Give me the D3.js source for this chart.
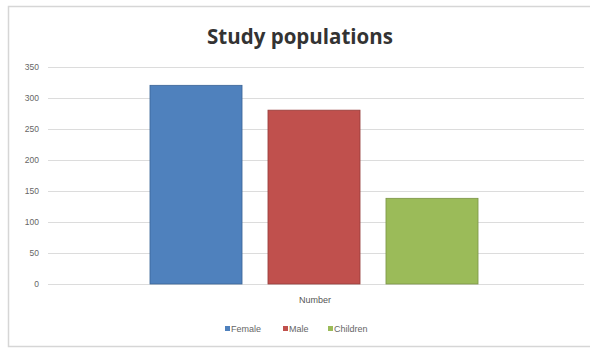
<!DOCTYPE html>
<html><head><meta charset="utf-8">
<script src="https://cdn.jsdelivr.net/npm/d3@7"></script>
<style>body{margin:0;background:#fff}svg{display:block}</style>
</head><body>
<svg id="c" width="590" height="348"></svg>
<script>
const categories = ["Number"];
const seriesNames = ["Female", "Male", "Children"];
const seriesValues = [320, 280, 138];
const seriesColors = ["#4f81bd", "#c0504d", "#9bbb59"];
const strokeColors = ["#3a6496", "#943c3a", "#7a9446"];
const yTicks = [0, 50, 100, 150, 200, 250, 300, 350];

const svg = d3.select("#c");
const font = "'Liberation Sans', Arial, sans-serif";

// outer border
svg.append("rect").attr("x", 8.5).attr("y", 6.5).attr("width", 590).attr("height", 340)
  .attr("fill", "#fff").attr("stroke", "#d6d6d6").attr("stroke-width", 1.5);

const m = {left: 48, right: 584, top: 66.7, bottom: 284};
const y = d3.scaleLinear().domain([0, 350]).range([m.bottom, m.top]);
const xCat = d3.scaleBand().domain(categories).range([m.left, m.right]);
// series group occupies the middle ~61% of the category band
const groupW = xCat.bandwidth() * 0.612;
const xSer = d3.scaleBand().domain(seriesNames)
  .range([0, groupW]).paddingInner(0.22).paddingOuter(0);

// gridlines
svg.append("g").selectAll("line").data(yTicks).join("line")
  .attr("x1", m.left).attr("x2", m.right)
  .attr("y1", d => Math.round(y(d)) + 0.5).attr("y2", d => Math.round(y(d)) + 0.5)
  .attr("stroke", "#dcdcdc").attr("stroke-width", 1.2);

// y axis labels
const yAxis = d3.axisLeft(y).tickValues(yTicks).tickSize(0).tickPadding(0);
const ga = svg.append("g").attr("transform", `translate(39,0)`).call(yAxis);
ga.select(".domain").remove();
ga.selectAll("text").attr("font-family", font).attr("font-size", 8.5).attr("fill", "#666");

// bars
const cat = categories[0];
const gx = xCat(cat) + (xCat.bandwidth() - groupW) / 2 - 2;
svg.append("g").attr("transform", `translate(${gx},0)`)
  .selectAll("rect").data(seriesNames).join("rect")
  .attr("x", d => xSer(d))
  .attr("width", xSer.bandwidth())
  .attr("y", (d, i) => y(seriesValues[i]))
  .attr("height", (d, i) => y(0) - y(seriesValues[i]))
  .attr("fill", (d, i) => seriesColors[i])
  .attr("stroke", (d, i) => strokeColors[i]).attr("stroke-width", 0.8);

// category label
svg.append("g").selectAll("text").data(categories).join("text")
  .attr("x", d => xCat(d) + xCat.bandwidth() / 2 - 1).attr("y", 303)
  .attr("text-anchor", "middle").attr("font-family", font).attr("font-size", 9)
  .attr("fill", "#555").text(d => d);

// title
svg.append("text").attr("x", 300).attr("y", 44).attr("text-anchor", "middle")
  .attr("font-family", "'Open Sans', 'Liberation Sans', sans-serif").attr("font-weight", "bold")
  .attr("font-size", 20.5).attr("fill", "#333").text("Study populations");

// legend
const legendX = [225, 283, 328];
const lg = svg.append("g").selectAll("g").data(seriesNames).join("g")
  .attr("transform", (d, i) => `translate(${legendX[i]},329)`);
lg.append("rect").attr("x", 0).attr("y", -3).attr("width", 5).attr("height", 5)
  .attr("fill", (d, i) => seriesColors[i]);
lg.append("text").attr("x", 6).attr("y", 2.8).attr("font-family", font).attr("font-size", 9)
  .attr("fill", "#666").text(d => d);
</script>
</body></html>
